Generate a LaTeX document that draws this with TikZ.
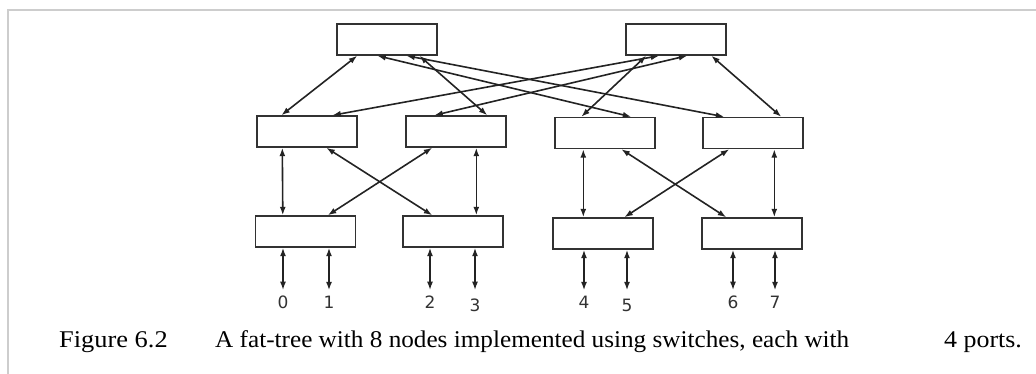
\documentclass[tikz,border=0pt]{standalone}
\usepackage{fontspec}
\setmainfont{Liberation Serif}
\newfontfamily\digitfont{DejaVu Sans}
\usetikzlibrary{arrows.meta}
\definecolor{boxgray}{RGB}{50,50,50}
\definecolor{linkgray}{RGB}{35,35,35}
\definecolor{framegray}{RGB}{205,205,205}
\definecolor{leafgray}{RGB}{50,50,50}
\newcommand{\capfont}{\fontsize{24}{24}\selectfont}
\begin{document}
\begin{tikzpicture}[x=1pt,y=-1pt,
  sw/.style={draw=boxgray,line width=1.4pt,inner sep=0pt,minimum width=100pt,minimum height=31pt},
  link/.style={draw=linkgray,line width=1.6pt,{Latex[length=8.5pt,width=6pt]}-{Latex[length=8.5pt,width=6pt]}},
  leaf/.style={font=\digitfont\fontsize{17}{17}\selectfont,text=leafgray,inner sep=0pt,anchor=base},
  captext/.style={inner sep=0pt,anchor=base west},
  framestyle/.style={draw=framegray,line width=2pt}]
\useasboundingbox (0,0) rectangle (1036,374);
% frame
\draw[framestyle] (7.5,374) -- (7.5,10) -- (1036,10);
% switches
\node[sw] (T1) at (387,39.5) {};
\node[sw] (T2) at (676,39.5) {};
\node[sw] (M1) at (307,131.5) {};
\node[sw] (M2) at (456,131.5) {};
\node[sw] (M3) at (605,133) {};
\node[sw] (M4) at (753,133) {};
\node[sw] (B1) at (305.5,231.5) {};
\node[sw] (B2) at (453,231.5) {};
\node[sw] (B3) at (603,233.5) {};
\node[sw] (B4) at (752,233.5) {};
% top to middle
\draw[link] ([xshift=21pt]T1.south west) -- ([xshift=25pt]M1.north west);
\draw[link] ([xshift=41pt]T1.south west) -- ([xshift=77pt]M3.north west);
\draw[link] ([xshift=70pt]T1.south west) -- ([xshift=22pt]M4.north west);
\draw[link] ([xshift=83pt]T1.south west) -- ([xshift=82pt]M2.north west);
\draw[link] ([xshift=21pt]T2.south west) -- ([xshift=27pt]M3.north west);
\draw[link] ([xshift=34pt]T2.south west) -- ([xshift=76pt]M1.north west);
\draw[link] ([xshift=62pt]T2.south west) -- ([xshift=29pt]M2.north west);
\draw[link] ([xshift=86pt]T2.south west) -- ([xshift=79pt]M4.north west);
% middle to bottom
\draw[link] ([xshift=26pt]M1.south west) -- ([xshift=28pt]B1.north west);
\draw[link] ([xshift=70pt]M1.south west) -- ([xshift=30pt]B2.north west);
\draw[link] ([xshift=27pt]M2.south west) -- ([xshift=73pt]B1.north west);
\draw[link] ([xshift=71pt]M2.south west) -- ([xshift=74pt]B2.north west);
\draw[link] ([xshift=29pt]M3.south west) -- ([xshift=31pt]B3.north west);
\draw[link] ([xshift=67pt]M3.south west) -- ([xshift=25pt]B4.north west);
\draw[link] ([xshift=27pt]M4.south west) -- ([xshift=72pt]B3.north west);
\draw[link] ([xshift=72pt]M4.south west) -- ([xshift=73pt]B4.north west);
% leaves
\node[leaf] (n0) at (283,308) {0};
\node[leaf] (n1) at (329,308) {1};
\node[leaf] (n2) at (430,308) {2};
\node[leaf] (n3) at (475,311) {3};
\node[leaf] (n4) at (584,308) {4};
\node[leaf] (n5) at (627,311) {5};
\node[leaf] (n6) at (733,308) {6};
\node[leaf] (n7) at (775,308) {7};
\draw[link] (B1.south -| n0) -- ([yshift=5pt]n0.north);
\draw[link] (B1.south -| n1) -- ([yshift=5pt]n1.north);
\draw[link] (B2.south -| n2) -- ([yshift=5pt]n2.north);
\draw[link] (B2.south -| n3) -- ([yshift=8pt]n3.north);
\draw[link] (B3.south -| n4) -- ([yshift=5pt]n4.north);
\draw[link] (B3.south -| n5) -- ([yshift=8pt]n5.north);
\draw[link] (B4.south -| n6) -- ([yshift=5pt]n6.north);
\draw[link] (B4.south -| n7) -- ([yshift=5pt]n7.north);
% caption
\node[captext] (c1) at (59,347) {\scalebox{1.1}[1]{\capfont Figure 6.2}};
\node[captext] (c2) at (215,347) {\scalebox{1.05}[1]{\capfont A fat-tree with 8 nodes implemented using switches, each with}};
\node[captext] (c3) at (944,347) {\scalebox{1.08}[1]{\capfont 4 ports.}};
\end{tikzpicture}
\end{document}
